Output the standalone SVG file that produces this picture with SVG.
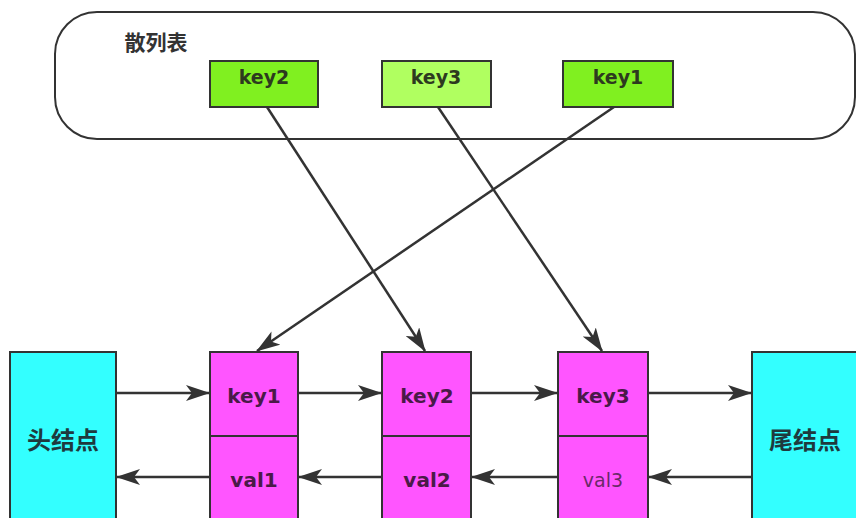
<svg xmlns="http://www.w3.org/2000/svg" width="856" height="518" viewBox="0 0 856 518">
  <defs>
    <marker id="arrow" markerWidth="24" markerHeight="16" refX="23" refY="8" orient="auto" markerUnits="userSpaceOnUse">
      <path d="M0,0 L24,8 L0,16 L6,8 Z" fill="#333333"/>
    </marker>
    <style>
      .box { stroke: #333333; stroke-width: 2; }
      .hash { fill: #80f020; }
      .hash-alt { fill: #b0ff60; }
      .entry { fill: #ff55ff; }
      .end { fill: #33ffff; }
      .t { font-family: "DejaVu Sans", "Noto Sans CJK SC", sans-serif; font-weight: bold; text-anchor: middle; dominant-baseline: central; }
      .cjk { font-family: "Noto Sans CJK SC", sans-serif; font-weight: bold; text-anchor: middle; dominant-baseline: central; }
      .tk { font-size: 19px; fill: #2d3a1f; }
      .te { font-size: 20px; fill: #4a1a48; }
      .te-light { font-size: 19px; fill: #6a2a68; font-weight: normal; }
      .tc { font-size: 24px; fill: #1e3a3e; }
      .link { stroke: #333333; stroke-width: 2.5; fill: none; marker-end: url(#arrow); }
    </style>
  </defs>
  <rect width="856" height="518" fill="#ffffff"/>

  <!-- hash table container -->
  <g id="hashtable">
    <rect x="55" y="12" width="800" height="127" rx="42" ry="42" fill="#ffffff" stroke="#333333" stroke-width="2"/>
    <text class="cjk" x="156" y="41" style="font-size:21px;fill:#333333">散列表</text>
  </g>

  <g id="hkey2">
    <rect class="box hash" x="210" y="61" width="108" height="46"/>
    <text class="t tk" x="264" y="77">key2</text>
  </g>
  <g id="hkey3">
    <rect class="box hash-alt" x="382" y="61" width="109" height="46"/>
    <text class="t tk" x="436" y="77">key3</text>
  </g>
  <g id="hkey1">
    <rect class="box hash" x="563" y="61" width="110" height="46"/>
    <text class="t tk" x="618" y="77">key1</text>
  </g>

  <!-- doubly linked list -->
  <g id="head">
    <rect class="box end" x="10" y="352" width="106" height="180"/>
    <text class="cjk tc" x="63" y="438">头结点</text>
  </g>
  <g id="node1">
    <rect class="box entry" x="210" y="352" width="88" height="84"/>
    <rect class="box entry" x="210" y="436" width="88" height="96"/>
    <text class="t te" x="254" y="396">key1</text>
    <text class="t te" x="254" y="480">val1</text>
  </g>
  <g id="node2">
    <rect class="box entry" x="382" y="352" width="89" height="84"/>
    <rect class="box entry" x="382" y="436" width="89" height="96"/>
    <text class="t te" x="427" y="396">key2</text>
    <text class="t te" x="427" y="480">val2</text>
  </g>
  <g id="node3">
    <rect class="box entry" x="558" y="352" width="90" height="84"/>
    <rect class="box entry" x="558" y="436" width="90" height="96"/>
    <text class="t te" x="603" y="396">key3</text>
    <text class="t te-light" x="603" y="480">val3</text>
  </g>
  <g id="tail">
    <rect class="box end" x="752" y="352" width="110" height="180"/>
    <text class="cjk tc" x="805" y="438">尾结点</text>
  </g>

  <g id="connectors">
    <!-- hash slots to entries -->
    <line class="link" x1="267" y1="107" x2="425" y2="351"/>
    <line class="link" x1="438" y1="107" x2="602" y2="351"/>
    <line class="link" x1="614" y1="107" x2="257" y2="351"/>
    <!-- forward links -->
    <line class="link" x1="116" y1="393" x2="209" y2="393"/>
    <line class="link" x1="298" y1="393" x2="381" y2="393"/>
    <line class="link" x1="471" y1="393" x2="557" y2="393"/>
    <line class="link" x1="648" y1="393" x2="751" y2="393"/>
    <!-- backward links -->
    <line class="link" x1="210" y1="477" x2="117" y2="477"/>
    <line class="link" x1="382" y1="477" x2="299" y2="477"/>
    <line class="link" x1="558" y1="477" x2="472" y2="477"/>
    <line class="link" x1="752" y1="477" x2="649" y2="477"/>
  </g>
</svg>
